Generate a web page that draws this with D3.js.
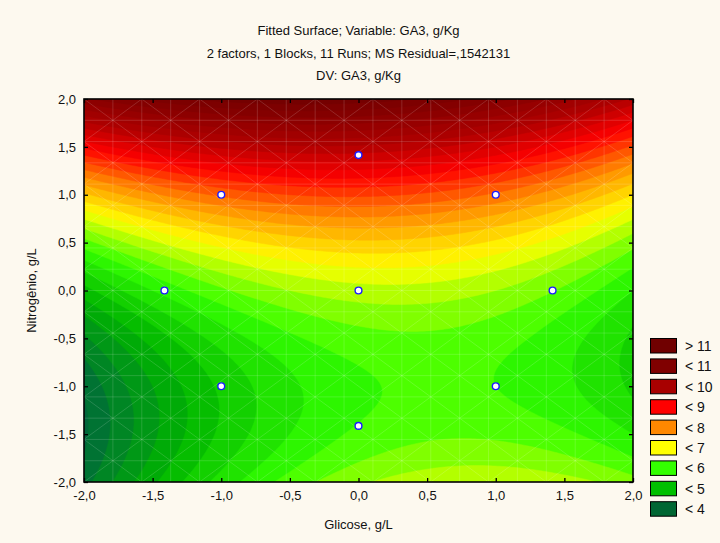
<!DOCTYPE html>
<html><head><meta charset="utf-8">
<script src="https://cdn.jsdelivr.net/npm/d3@7/dist/d3.min.js"></script>
<style>body{margin:0;background:#fdf9ef;} svg{display:block;font-family:"Liberation Sans",Arial,sans-serif;}</style>
</head><body><div id="chart"></div>
<script>
// Titles
const titleLines = ["Fitted Surface; Variable: GA3, g/Kg","2 factors, 1 Blocks, 11 Runs; MS Residual=,1542131","DV: GA3, g/Kg"];
const xTitle = "Glicose, g/L";
const yTitle = "Nitrogênio, g/L";
// Axis ticks
const xTicks = [-2,-1.5,-1,-0.5,0,0.5,1,1.5,2];
const yTicks = [-2,-1.5,-1,-0.5,0,0.5,1,1.5,2];
// Fitted quadratic surface coefficients (estimated): b0, bx, by, bxx, byy, bxy
const surfaceCoef = [6.65, 0.15, 1.3, -0.3, 0.6, -0.2];
// Design points (11 runs, central composite)
const designX = [-1, 1, -1, 1, -1.414, 1.414, 0, 0, 0];
const designY = [-1, -1, 1, 1, 0, 0, -1.414, 1.414, 0];
// Legend
const legendLabels = ["> 11","< 11","< 10","< 9","< 8","< 7","< 6","< 5","< 4"];
const legendColors = ["#700000","#800000","#a80000","#ff0000","#ff8800","#ffff00","#33ff00","#00c000","#006633"];
// Colour ramp anchors for fine contour bands
const rampValues = [3, 4, 5, 6, 7, 8, 9, 10, 11, 12];
const rampColors = ["#0a5038","#006a3a","#00b400","#33ff00","#ffff00","#ff8c00","#ff0000","#b00000","#880000","#6a0000"];
const bandStep = 0.25;

const W = 720, H = 543;
const px0 = 84, px1 = 633, py0 = 99, py1 = 482;
const svg = d3.select("#chart").append("svg").attr("width", W).attr("height", H);
svg.append("rect").attr("width", W).attr("height", H).attr("fill", "#fdf9ef");

const x = d3.scaleLinear().domain([-2, 2]).range([px0, px1]);
const y = d3.scaleLinear().domain([-2, 2]).range([py1, py0]);
const color = d3.scaleLinear().domain(rampValues).range(rampColors).clamp(true);

function model(a, b) {
  const c = surfaceCoef;
  return c[0] + c[1]*a + c[2]*b + c[3]*a*a + c[4]*b*b + c[5]*a*b;
}

// grid sampling
const nx = 240, ny = 170;
const vals = new Array(nx*ny);
for (let j = 0; j < ny; j++) {
  const yy = y.invert(py0 + j/(ny-1)*(py1-py0));
  for (let i = 0; i < nx; i++) {
    const xx = x.invert(px0 + i/(nx-1)*(px1-px0));
    vals[j*nx+i] = model(xx, yy);
  }
}
const thresholds = d3.range(2, 13.001, bandStep);
const contours = d3.contours().size([nx, ny]).thresholds(thresholds)(vals);
const gx = d3.scaleLinear().domain([0.5, nx-0.5]).range([px0, px1]);
const gy = d3.scaleLinear().domain([0.5, ny-0.5]).range([py0, py1]);
const proj = d3.geoTransform({point: function(a, b){ this.stream.point(gx(a), gy(b)); }});
const path = d3.geoPath(proj);

svg.append("clipPath").attr("id","clip").append("rect")
  .attr("x", px0).attr("y", py0).attr("width", px1-px0).attr("height", py1-py0);
const plot = svg.append("g").attr("clip-path","url(#clip)");
plot.append("rect").attr("x", px0).attr("y", py0).attr("width", px1-px0).attr("height", py1-py0)
  .attr("fill", color(2));
plot.selectAll("path.band").data(contours).enter().append("path")
  .attr("class","band")
  .attr("d", path)
  .attr("fill", d => color(d.value + bandStep/2))
  .attr("stroke", d => color(d.value + bandStep/2))
  .attr("stroke-width", 0.5);

// mesh overlay
const meshCols = 19, meshRows = 18;
const mesh = plot.append("g").attr("stroke", "#ffffff").attr("stroke-opacity", 0.17).attr("stroke-width", 0.9).attr("fill","none");
const cw = (px1-px0)/meshCols, ch = (py1-py0)/meshRows;
for (let i = 0; i <= meshCols; i++) mesh.append("line").attr("x1", px0+i*cw).attr("x2", px0+i*cw).attr("y1", py0).attr("y2", py1);
for (let j = 0; j <= meshRows; j++) mesh.append("line").attr("x1", px0).attr("x2", px1).attr("y1", py0+j*ch).attr("y2", py0+j*ch);
for (let k = -meshRows; k <= meshCols; k += 2) {
  mesh.append("line").attr("x1", px0+k*cw).attr("y1", py1).attr("x2", px0+(k+meshRows)*cw).attr("y2", py0);
  mesh.append("line").attr("x1", px0+k*cw).attr("y1", py0).attr("x2", px0+(k+meshRows)*cw).attr("y2", py1);
}

// design points
svg.append("g").selectAll("circle").data(designX.map((d,i)=>[d, designY[i]])).enter().append("circle")
  .attr("cx", d => x(d[0])).attr("cy", d => y(d[1])).attr("r", 3.4)
  .attr("fill", "#ffffff").attr("stroke", "#1a1aff").attr("stroke-width", 1.4);

// axes (ticks inward)
const fmt = d => d3.format(".1f")(d).replace(".", ",").replace("−","-");
const axB = d3.axisBottom(x).tickValues(xTicks).tickSize(-4).tickPadding(9).tickFormat(fmt);
const axL = d3.axisLeft(y).tickValues(yTicks).tickSize(-4).tickPadding(8).tickFormat(fmt);
const axT = d3.axisTop(x).tickValues(xTicks).tickSize(-4).tickFormat("");
const axR = d3.axisRight(y).tickValues(yTicks).tickSize(-4).tickFormat("");
function style(g){ g.select(".domain").remove(); g.selectAll(".tick line").attr("stroke","#000").attr("stroke-width",1.3);
  g.selectAll("text").attr("font-size", 13).attr("fill","#111").attr("font-family","Liberation Sans, Arial, sans-serif"); }
svg.append("g").attr("transform",`translate(0,${py1})`).call(axB).call(style);
svg.append("g").attr("transform",`translate(${px0},0)`).call(axL).call(style);
svg.append("g").attr("transform",`translate(0,${py0})`).call(axT).call(style);
svg.append("g").attr("transform",`translate(${px1},0)`).call(axR).call(style);
svg.append("rect").attr("x", px0).attr("y", py0).attr("width", px1-px0).attr("height", py1-py0)
  .attr("fill","none").attr("stroke","#000").attr("stroke-width",1.6);

// titles
const cx = (px0+px1)/2;
svg.append("g").selectAll("text").data(titleLines).enter().append("text")
  .attr("x", cx).attr("y", (d,i) => 35 + i*22.5).attr("text-anchor","middle")
  .attr("font-size", 13).attr("fill","#111").text(d => d);
svg.append("text").attr("x", cx).attr("y", 529).attr("text-anchor","middle").attr("font-size",13).attr("fill","#111").text(xTitle);
svg.append("text").attr("transform",`translate(36,${(py0+py1)/2}) rotate(-90)`).attr("text-anchor","middle")
  .attr("font-size",13).attr("fill","#111").text(yTitle);

// legend
const lg = svg.append("g");
legendLabels.forEach((lab, i) => {
  const ty = 338 + i*20.4;
  lg.append("rect").attr("x", 650.5).attr("y", ty+0.5).attr("width", 26).attr("height", 14.5)
    .attr("fill", legendColors[i]).attr("stroke","#000").attr("stroke-width",1);
  lg.append("text").attr("x", 685).attr("y", ty+13).attr("font-size",14).attr("fill","#111").text(lab);
});
</script></body></html>
